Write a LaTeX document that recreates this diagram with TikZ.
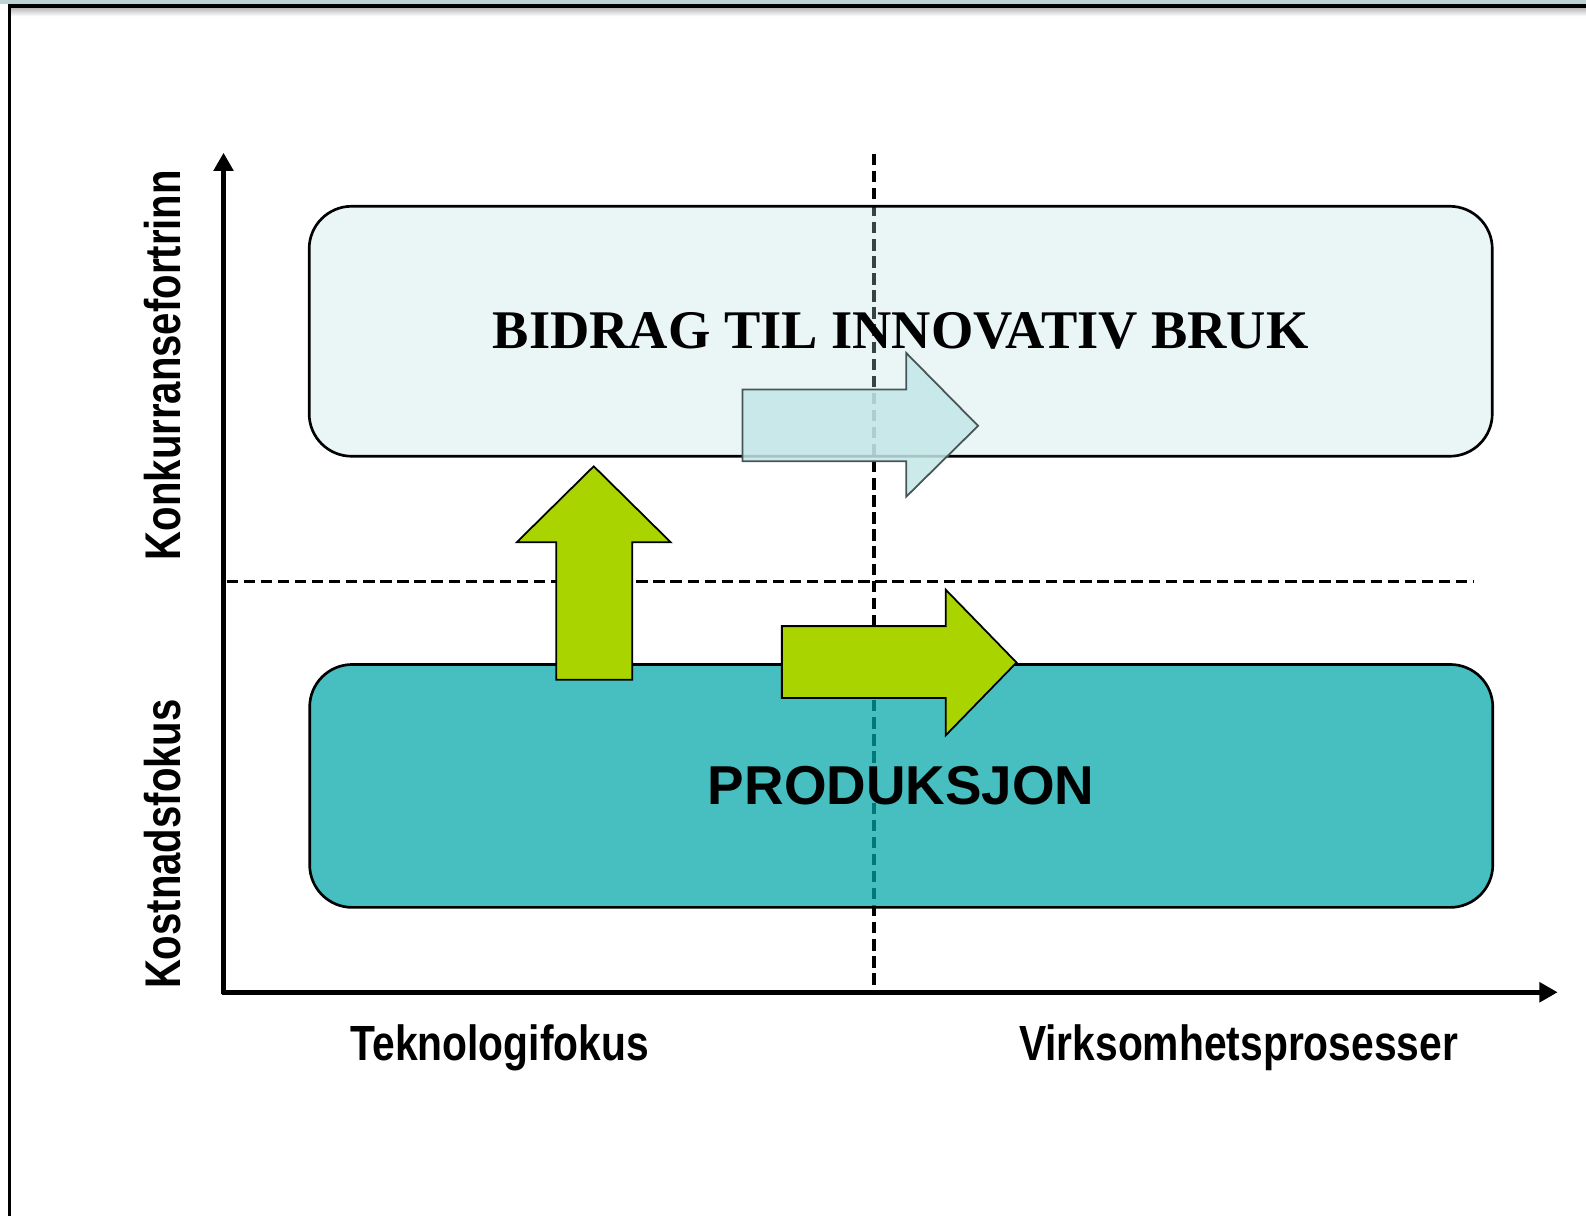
\documentclass[tikz,border=0pt]{standalone}
\usepackage{fontspec}
\setmainfont{Liberation Serif}
\newfontfamily\arialfont{Liberation Sans}
\newfontfamily\narrowfont[FakeStretch=0.8]{Liberation Sans}
\newfontfamily\basefont[FakeStretch=0.825]{Liberation Sans}
\usetikzlibrary{arrows.meta}
\definecolor{stripgray}{RGB}{190,210,210}
\definecolor{lightfill}{RGB}{185,224,224}
\definecolor{tealfill}{RGB}{0,165,167}
\definecolor{limegreen}{RGB}{170,212,0}
\definecolor{paleblue}{RGB}{196,230,232}
\definecolor{arrowgray}{RGB}{70,85,85}

\begin{document}
\begin{tikzpicture}[x=0.01cm,y=-0.01cm,
    axis/.style={line width=1.3pt,-{Triangle[width=0.19cm,length=0.18cm]}},
    divider/.style={line width=1.05pt,dash pattern=on 3.2pt off 1.6pt},
    band/.style={draw,line width=0.75pt,rounded corners=0.42cm,text opacity=1,inner sep=0pt,minimum width=11.69cm},
    topband/.style={band,fill=lightfill,fill opacity=0.3,minimum height=2.47cm,font=\bfseries\fontsize{15.3}{18}\selectfont},
    lowband/.style={band,fill=tealfill,fill opacity=0.72,minimum height=2.40cm,font=\arialfont\bfseries\fontsize{15.4}{18}\selectfont},
    greenarrow/.style={draw,line width=0.5pt,fill=limegreen},
    palearrow/.style={draw=arrowgray,line width=0.5pt,fill=paleblue,fill opacity=0.85},
    sidelabel/.style={rotate=90,anchor=base,inner sep=0pt,font=\narrowfont\bfseries\fontsize{14.1}{17}\selectfont},
    baselabel/.style={anchor=base,inner sep=0pt,font=\basefont\bfseries\fontsize{13.9}{17}\selectfont}]
 	\useasboundingbox (0,0) rectangle (1568,1202);
 	\fill [stripgray] (0,0) rectangle (1568,3.5);
 	\shade [top color=black!30,bottom color=white] (9,7) rectangle (1568,16);
 	\draw [black,line width=0.9pt] (9,1202) -- (9,6) -- (1568,6);
 	\coordinate (origin) at (221,983);
 	\coordinate (ytop) at (221,151);
 	\coordinate (xstart) at (219,981);
 	\coordinate (xend) at (1540,981);
 	\coordinate (vtop) at (864,152);
 	\coordinate (vbottom) at (864,978);
 	\coordinate (hleft) at (224,575);
 	\coordinate (hright) at (1457,575);
 	\draw [divider] (vtop) -- (vbottom);
 	\draw [divider] (hleft) -- (hright);
 	\node [topband] (bidrag) at (890.5,327.5) {BIDRAG TIL INNOVATIV BRUK};
 	\node [lowband] (produksjon) at (891,777) {PRODUKSJON};
 	\draw [palearrow] (734,385) -- (896,385) -- (896,349) -- (967,421) -- (896,491) -- (896,456) -- (734,456) -- cycle;
 	\draw [greenarrow] (550,672) -- (550,536) -- (511,536) -- (587,461) -- (663,536) -- (625,536) -- (625,672) -- cycle;
 	\draw [greenarrow] (773,619) -- (935,619) -- (935,583) -- (1005,655) -- (935,727) -- (935,690) -- (773,690) -- cycle;
 	\draw [axis] (origin) -- (ytop);
 	\draw [axis] (xstart) -- (xend);
 	\node [sidelabel] (konkurranse) at (178.6,361) {Konkurransefortrinn};
 	\node [sidelabel] (kostnad) at (178.6,834.5) {Kostnadsfokus};
 	\node [baselabel] (teknologi) at (494,1048) {Teknologifokus};
 	\node [baselabel] (virksomhet) at (1224.5,1048) {Virksomhetsprosesser};
\end{tikzpicture}
\end{document}
